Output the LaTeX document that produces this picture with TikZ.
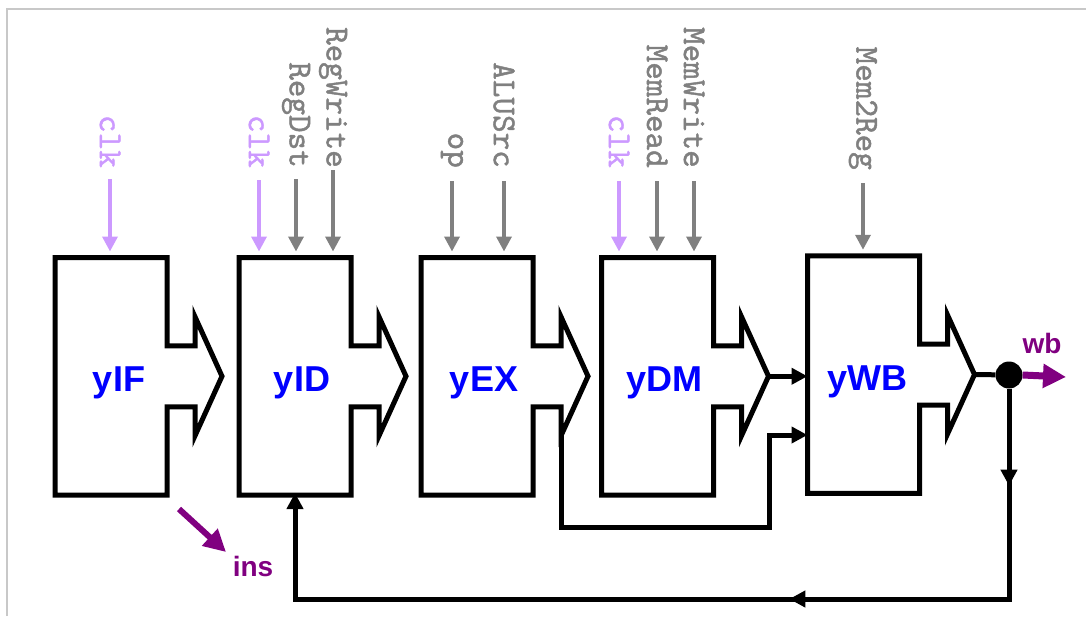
\documentclass[tikz,border=0pt]{standalone}
\usepackage{fontspec}
\usetikzlibrary{arrows.meta,decorations.markings}
\newfontfamily\lsans{Liberation Sans}
\newfontfamily\tmono{lmmono10-regular.otf}[FakeBold=1.3]
\definecolor{sigpurple}{RGB}{128,0,128}
\definecolor{clkcol}{RGB}{204,153,255}
\definecolor{siggray}{RGB}{128,128,128}
\definecolor{framecol}{RGB}{200,200,200}
\definecolor{lblblue}{RGB}{0,0,255}
\tikzset{
  boxnode/.style={minimum width=112pt, minimum height=237.5pt, inner sep=0pt, outer sep=0pt},
  stageline/.style={line width=5pt, black, line join=miter},
  stagelabel/.style={font=\lsans\bfseries\fontsize{36}{40}\selectfont, text=lblblue, anchor=base, inner sep=0pt},
  siglabel/.style={font=\tmono\fontsize{33.5}{35}\selectfont, text=siggray, rotate=-90, anchor=east, inner sep=0pt},
  clklabel/.style={siglabel, text=clkcol},
  sigarrow/.style={draw=siggray, line width=3.5pt, -{Triangle[length=15pt,width=15pt]}, shorten >=6pt},
  clkarrow/.style={sigarrow, draw=clkcol},
  conn/.style={line width=5pt, black, line join=miter},
  blacktip/.style={-{Triangle[length=16pt,width=16pt]}},
  outlabel/.style={font=\lsans\bfseries\fontsize{28}{30}\selectfont, text=sigpurple, anchor=base, inner sep=0pt},
}
\newcommand\stagebox[3]{%
  \begin{scope}[shift={(#2,#3)}]
    \node[boxnode] (#1) at (0,0) {};
    \draw[stageline] (-56,-118.75) -- (56,-118.75) -- (56,-30.5) -- (84,-30.5) -- (84,-59.5)
      -- (111,0) -- (84,59.5) -- (84,30.5) -- (56,30.5) -- (56,118.75) -- (-56,118.75) -- cycle;
    \coordinate (#1tip) at (111,0);
    \coordinate (#1bot) at (84,59.5);
  \end{scope}}
\begin{document}
\begin{tikzpicture}[x=1pt,y=-1pt]
\useasboundingbox (0,0) rectangle (1086,616);
% frame
\draw[framecol, line width=2pt] (7,616) -- (7,9) -- (1086,9);

% stages
\stagebox{IF}{111}{376.25}
\stagebox{ID}{295}{376.25}
\stagebox{EX}{477}{376.25}
\stagebox{DM}{657.5}{376.25}
\stagebox{WB}{863.5}{374.5}

\node[stagelabel] (IFl) at (119,391.5) {yIF};
\node[stagelabel] (IDl) at (302,391.5) {yID};
\node[stagelabel] (EXl) at (484,391.5) {yEX};
\node[stagelabel] (DMl) at (664,391.5) {yDM};
\node[stagelabel] (WBl) at (867,390) {yWB};

% control signals
\node[clklabel] (clkA) at (110,168) {clk};
\node[clklabel] (clkB) at (259,168) {clk};
\node[siglabel] (regdst) at (296,168) {RegDst};
\node[siglabel] (regwrite) at (333,168) {RegWrite};
\node[siglabel] (op) at (452,168) {op};
\node[siglabel] (alusrc) at (504,168) {ALUSrc};
\node[clklabel] (clkC) at (619,168) {clk};
\node[siglabel] (memread) at (657,168) {MemRead};
\node[siglabel] (memwrite) at (694,168) {MemWrite};
\node[siglabel] (memreg) at (863,170) {Mem2Reg};

\draw[clkarrow] ([yshift=-11pt]clkA.east) -- (clkA.east |- IF.north);
\draw[clkarrow] ([yshift=-12pt]clkB.east) -- (clkB.east |- ID.north);
\draw[sigarrow] ([yshift=-11pt]regdst.east) -- (regdst.east |- ID.north);
\draw[sigarrow] ([yshift=-2pt]regwrite.east) -- (regwrite.east |- ID.north);
\draw[sigarrow] ([yshift=-13pt]op.east) -- (op.east |- EX.north);
\draw[sigarrow] ([yshift=-13pt]alusrc.east) -- (alusrc.east |- EX.north);
\draw[clkarrow] ([yshift=-13pt]clkC.east) -- (clkC.east |- DM.north);
\draw[sigarrow] ([yshift=-13pt]memread.east) -- (memread.east |- DM.north);
\draw[sigarrow] ([yshift=-13pt]memwrite.east) -- (memwrite.east |- DM.north);
\draw[sigarrow] ([yshift=-13pt]memreg.east) -- (memreg.east |- WB.north);

% data connectors
\draw[conn, blacktip] (DMtip) -- (DMtip -| WB.west);
\coordinate (fwdA) at (561,527);
\coordinate (fwdB) at (769,527);
\coordinate (fwdC) at (769,435);
\draw[conn, blacktip] (EXbot) -- (fwdA) -- (fwdB) -- (fwdC) -- (fwdC -| WB.west);

\node[circle, fill=black, minimum size=27pt, inner sep=0pt] (dot) at (1009,375) {};
\draw[conn] (WBtip) -- (dot);
\coordinate (fbA) at (1009,599);
\coordinate (fbB) at (295,599);
\draw[conn, blacktip, shorten >=-2pt,
  postaction={decorate, decoration={markings,
    mark=at position 97pt with {\arrow{Triangle[length=16pt,width=16pt]}},
    mark=at position 430pt with {\arrow{Triangle[length=16pt,width=16pt]}}}}]
  (dot.south) -- (fbA) -- (fbB) -- (ID.south);

% outputs
\coordinate (wbEnd) at (1066,377);
\draw[sigpurple, line width=7pt, -{Triangle[length=23pt,width=23pt]}] (dot.east) -- (wbEnd);
\node[outlabel] (wbl) at (1042,353) {wb};

\coordinate (insA) at (179,509);
\coordinate (insB) at (226,552);
\draw[sigpurple, line width=6pt, -{Triangle[length=22pt,width=22pt]}] (insA) -- (insB);
\node[outlabel] (insl) at (253,576) {ins};
\end{tikzpicture}
\end{document}
